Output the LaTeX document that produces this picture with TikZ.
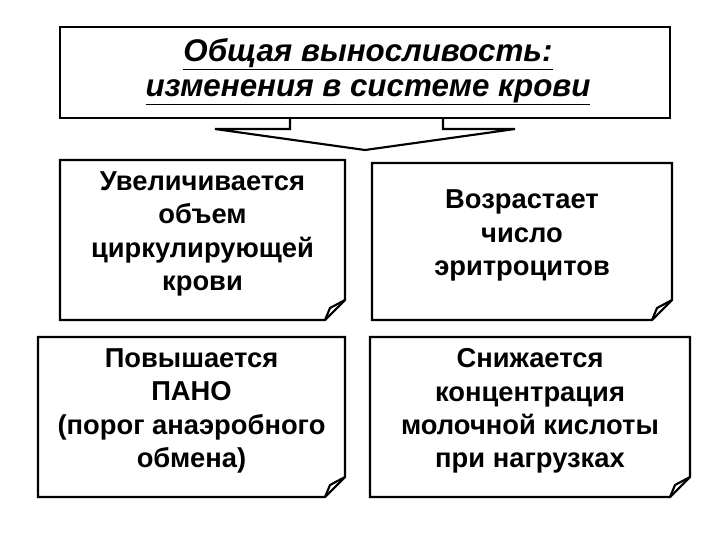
\documentclass[tikz,border=0pt]{standalone}
\usepackage{fontspec}
\setmainfont{Liberation Sans}
\begin{document}
\begin{tikzpicture}[x=0.75pt,y=-0.75pt,line width=1.6pt,
  body/.style={font=\fontsize{20.5}{25}\selectfont\bfseries,align=center}]
\useasboundingbox (0,0) rectangle (720,540);
\newcommand\foldbox[5]{% name x1 y1 x2 y2
  \draw[fill=white] (#2,#3)--(#4,#3)--(#4,#5-20)--(#4-20,#5)--(#2,#5)--cycle;
  \draw[line join=round] (#4-20,#5)--(#4-15,#5-12)--(#4,#5-20);
  \coordinate (#1) at ({(#2+#4)/2},{(#3+#5)/2-6});}
\draw (60,27) rectangle (670,118);
\node[font=\fontsize{23.5}{26}\selectfont\bfseries\itshape,align=center] (title) at (368,72)
  {\underline{Общая выносливость:}\\\underline{изменения в системе крови}};
\draw[line join=miter] (290,118)--(290,129)--(215,129)--(365,150)--(515,129)--(443,129)--(443,118);
\foldbox{a}{60}{160}{345}{320}
\foldbox{b}{372}{163}{672}{320}
\foldbox{c}{38}{337}{345}{497}
\foldbox{d}{370}{337}{690}{497}
\node[body] (ta) at (a) {Увеличивается\\объем\\циркулирующей\\крови};
\node[body] (tb) at (b) {Возрастает\\число\\эритроцитов};
\node[body] (tc) at (c) {Повышается\\ПАНО\\(порог анаэробного\\обмена)};
\node[body] (td) at (d) {Снижается\\концентрация\\молочной кислоты\\при нагрузках};
\end{tikzpicture}
\end{document}
